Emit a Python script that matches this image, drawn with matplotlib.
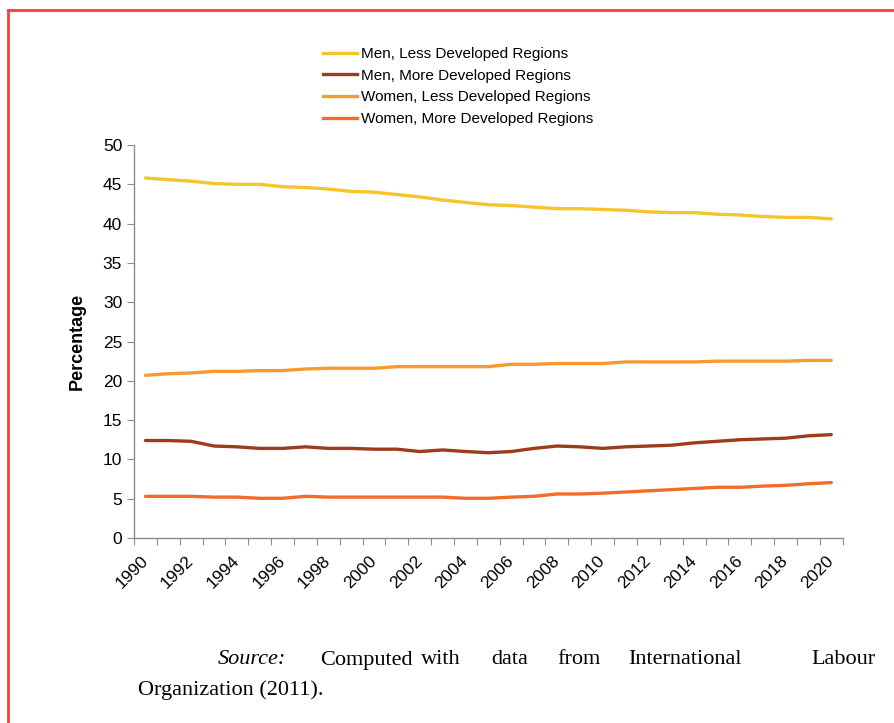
import matplotlib
matplotlib.use("Agg")
import matplotlib.pyplot as plt
import matplotlib.transforms as mtransforms
import numpy as np
from matplotlib.lines import Line2D

# Share of population (%) by sex and region, 1990-2020
years = list(range(1990, 2021))

men_less = [45.8, 45.6, 45.4, 45.1, 45.0, 45.0, 44.7, 44.6, 44.4, 44.1,
            44.0, 43.7, 43.4, 43.0, 42.7, 42.4, 42.3, 42.1, 41.9, 41.9,
            41.8, 41.7, 41.5, 41.4, 41.4, 41.2, 41.1, 40.9, 40.8, 40.8, 40.6]
men_more = [12.4, 12.4, 12.3, 11.7, 11.6, 11.4, 11.4, 11.6, 11.4, 11.4,
            11.3, 11.3, 11.0, 11.2, 11.0, 10.85, 11.0, 11.4, 11.7, 11.6,
            11.4, 11.6, 11.7, 11.8, 12.1, 12.3, 12.5, 12.6, 12.7, 13.0, 13.15]
women_less = [20.7, 20.9, 21.0, 21.2, 21.2, 21.3, 21.3, 21.5, 21.6, 21.6,
              21.6, 21.8, 21.8, 21.8, 21.8, 21.8, 22.1, 22.1, 22.2, 22.2,
              22.2, 22.4, 22.4, 22.4, 22.4, 22.5, 22.5, 22.5, 22.5, 22.6, 22.6]
women_more = [5.3, 5.3, 5.3, 5.2, 5.2, 5.05, 5.05, 5.3, 5.2, 5.2,
              5.2, 5.2, 5.2, 5.2, 5.05, 5.05, 5.2, 5.3, 5.6, 5.6,
              5.7, 5.85, 6.0, 6.15, 6.3, 6.45, 6.45, 6.6, 6.7, 6.9, 7.05]

labels = ["Men, Less Developed Regions", "Men, More Developed Regions",
          "Women, Less Developed Regions", "Women, More Developed Regions"]
colors = ["#F5C52C", "#9E3B1E", "#F79B2E", "#F26C2B"]

fig = plt.figure(figsize=(8.94, 7.23), dpi=100)
ax = fig.add_axes([0.1499, 0.2559, 0.7927, 0.5435])

x = np.arange(len(years))
for vals, lab, col in zip([men_less, men_more, women_less, women_more], labels, colors):
    ax.plot(x, vals, color=col, lw=2.4, label=lab, solid_capstyle="round")

ax.set_xlim(-0.5, len(years) - 0.5)
ax.set_ylim(0, 50)
ax.set_yticks(np.arange(0, 51, 5))

# tick marks at category boundaries, labels every other year at centers
ax.set_xticks(np.arange(-0.5, len(years), 1.0))
ax.set_xticklabels([])
ax.set_xticks(x[::2], minor=True)
ax.set_xticklabels([str(y) for y in years[::2]], minor=True, rotation=45,
                   ha="right", va="center", rotation_mode="anchor", fontsize=12.5,
                   family="Liberation Sans")
shift = mtransforms.ScaledTranslation(-4 / 100, 0, fig.dpi_scale_trans)
for t in ax.get_xticklabels(minor=True):
    t.set_transform(t.get_transform() + shift)
ax.tick_params(axis="x", which="minor", length=0, pad=15)
ax.tick_params(axis="x", which="major", length=5, color="#8c8c8c")
ax.tick_params(axis="y", length=5, color="#8c8c8c", labelsize=12.5)
for t in ax.get_yticklabels():
    t.set_family("Liberation Sans")

for s in ["top", "right"]:
    ax.spines[s].set_visible(False)
for s in ["left", "bottom"]:
    ax.spines[s].set_color("#8c8c8c")
    ax.spines[s].set_linewidth(1.0)

ax.set_ylabel("Percentage", fontsize=13, fontweight="bold",
              family="Liberation Sans", labelpad=12)

handles = [Line2D([], [], color=c, lw=2.4) for c in colors]
fig.legend(handles, labels, loc="upper left", bbox_to_anchor=(0.346, 0.954),
           frameon=False, handlelength=2.2, handletextpad=0.3,
           labelspacing=0.5, prop={"family": "Liberation Sans", "size": 11})

# source note, spread like a justified paragraph
src_font = {"family": "Liberation Serif", "size": 16}
fig.text(218 / 894, 1 - 660 / 723, "Source:", style="italic", va="center", **src_font)
words = ["Computed", "with", "data", "from", "International", "Labour"]
word_x = [320, 421, 491, 557, 628, 811]
for w, px in zip(words, word_x):
    fig.text(px / 894, 1 - 660 / 723, w, va="center", **src_font)
fig.text(138 / 894, 1 - 690 / 723, "Organization (2011).", va="center", **src_font)

# red frame (left and top edges visible)
fig.add_artist(Line2D([8 / 894, 8 / 894], [0, 1 - 10 / 723], color="#FF3B3B", lw=2,
                      transform=fig.transFigure))
fig.add_artist(Line2D([8 / 894, 1], [1 - 10 / 723, 1 - 10 / 723], color="#FF3B3B", lw=2,
                      transform=fig.transFigure))

fig.savefig("out.png", dpi=100, facecolor="white")
